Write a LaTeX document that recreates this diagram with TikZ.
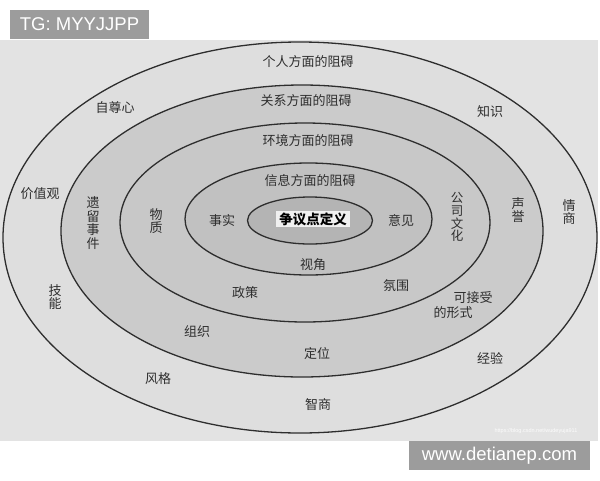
\documentclass[tikz,border=0pt]{standalone}
\usepackage{fontspec}
\setmainfont{Liberation Sans}
\newfontfamily\cjk{Noto Sans CJK SC}
\definecolor{paper}{HTML}{E3E3E3}
\definecolor{ringA}{HTML}{DEDEDE}
\definecolor{ringB}{HTML}{CBCBCB}
\definecolor{ringC}{HTML}{C8C8C8}
\definecolor{ringD}{HTML}{C1C1C1}
\definecolor{ringE}{HTML}{B4B4B4}
\definecolor{ink}{HTML}{2E2E2E}
\definecolor{tag}{HTML}{9C9C9C}
\tikzset{
  ring/.style={draw=ink, line width=1.3pt},
  lbl/.style={text=ink, font=\cjk\fontsize{13}{13.5}\selectfont, inner sep=0pt},
  vlbl/.style={lbl, align=center, font=\cjk\fontsize{13}{13.4}\selectfont},
  tagbox/.style={fill=tag, text=white, font=\fontsize{18.5}{20}\selectfont, inner sep=0pt}
}
\begin{document}
\begin{tikzpicture}[x=1pt,y=-1pt]
\useasboundingbox (0,0) rectangle (600,480);
\fill[white] (0,0) rectangle (600,480);
% photo
\fill[paper] (0,40) rectangle (598,441);
% rings
\filldraw[ring, fill=ringA] (300,237.5) ellipse [x radius=297pt, y radius=195.5pt];
\filldraw[ring, fill=ringB] (302,231) ellipse [x radius=241pt, y radius=146pt];
\filldraw[ring, fill=ringC] (305,222.5) ellipse [x radius=185pt, y radius=99.5pt];
\filldraw[ring, fill=ringD] (308.5,219) ellipse [x radius=123.5pt, y radius=56pt];
\filldraw[ring, fill=ringE] (310,220.5) ellipse [x radius=62.5pt, y radius=23.5pt];
% core label
\node[fill=white!94!black, text=black, font=\cjk\bfseries\fontsize{13.5}{14}\selectfont, minimum width=74pt, minimum height=16pt, inner sep=0pt] (core) at (313,219) {争议点定义};
% ring titles
\node[lbl] (t1) at (308,62) {个人方面的阻碍};
\node[lbl] (t2) at (306,101) {关系方面的阻碍};
\node[lbl] (t3) at (308,141) {环境方面的阻碍};
\node[lbl] (t4) at (310,181) {信息方面的阻碍};
% inner ring
\node[lbl] (shishi) at (222,221) {事实};
\node[lbl] (yijian) at (401,220) {意见};
\node[lbl] (shijiao) at (313,265) {视角};
% ring 3
\node[vlbl] (wuzhi) at (156,221) {物\\质};
\node[lbl] (zhengce) at (245,293) {政策};
\node[lbl] (fenwei) at (396,286) {氛围};
\node[vlbl, font=\cjk\fontsize{12.5}{12.8}\selectfont] (gongsi) at (457,217) {公\\司\\文\\化};
% ring 2
\node[vlbl] (yiliu) at (93,223) {遗\\留\\事\\件};
\node[lbl] (zuzhi) at (197,332) {组织};
\node[lbl] (dingwei) at (317,354) {定位};
\node[lbl] (kejieshou) at (473,298) {可接受};
\node[lbl] (xingshi) at (453,312.5) {的形式};
\node[vlbl] (shengyu) at (518,210) {声\\誉};
% outer ring
\node[lbl] (zizun) at (115,108) {自尊心};
\node[lbl] (zhishi) at (490,112) {知识};
\node[lbl] (jiazhi) at (40,194) {价值观};
\node[vlbl] (jineng) at (55,297) {技\\能};
\node[lbl] (fengge) at (158,379) {风格};
\node[lbl] (zhishang) at (318,405) {智商};
\node[lbl] (jingyan) at (490,358) {经验};
\node[vlbl] (qingshang) at (569,212) {情\\商};
% watermark
\node[text=white!90!paper, font=\fontsize{5.5}{6}\selectfont, inner sep=0pt] (csdn) at (536,431) {https://blog.csdn.net/wudeyuja911};
% tags
\node[tagbox, minimum width=139pt, minimum height=29pt] (tg) at (79.5,24.5) {TG: MYYJJPP};
\node[tagbox, minimum width=181pt, minimum height=29pt] (www) at (499.5,455.5) {www.detianep.com};
\end{tikzpicture}
\end{document}
